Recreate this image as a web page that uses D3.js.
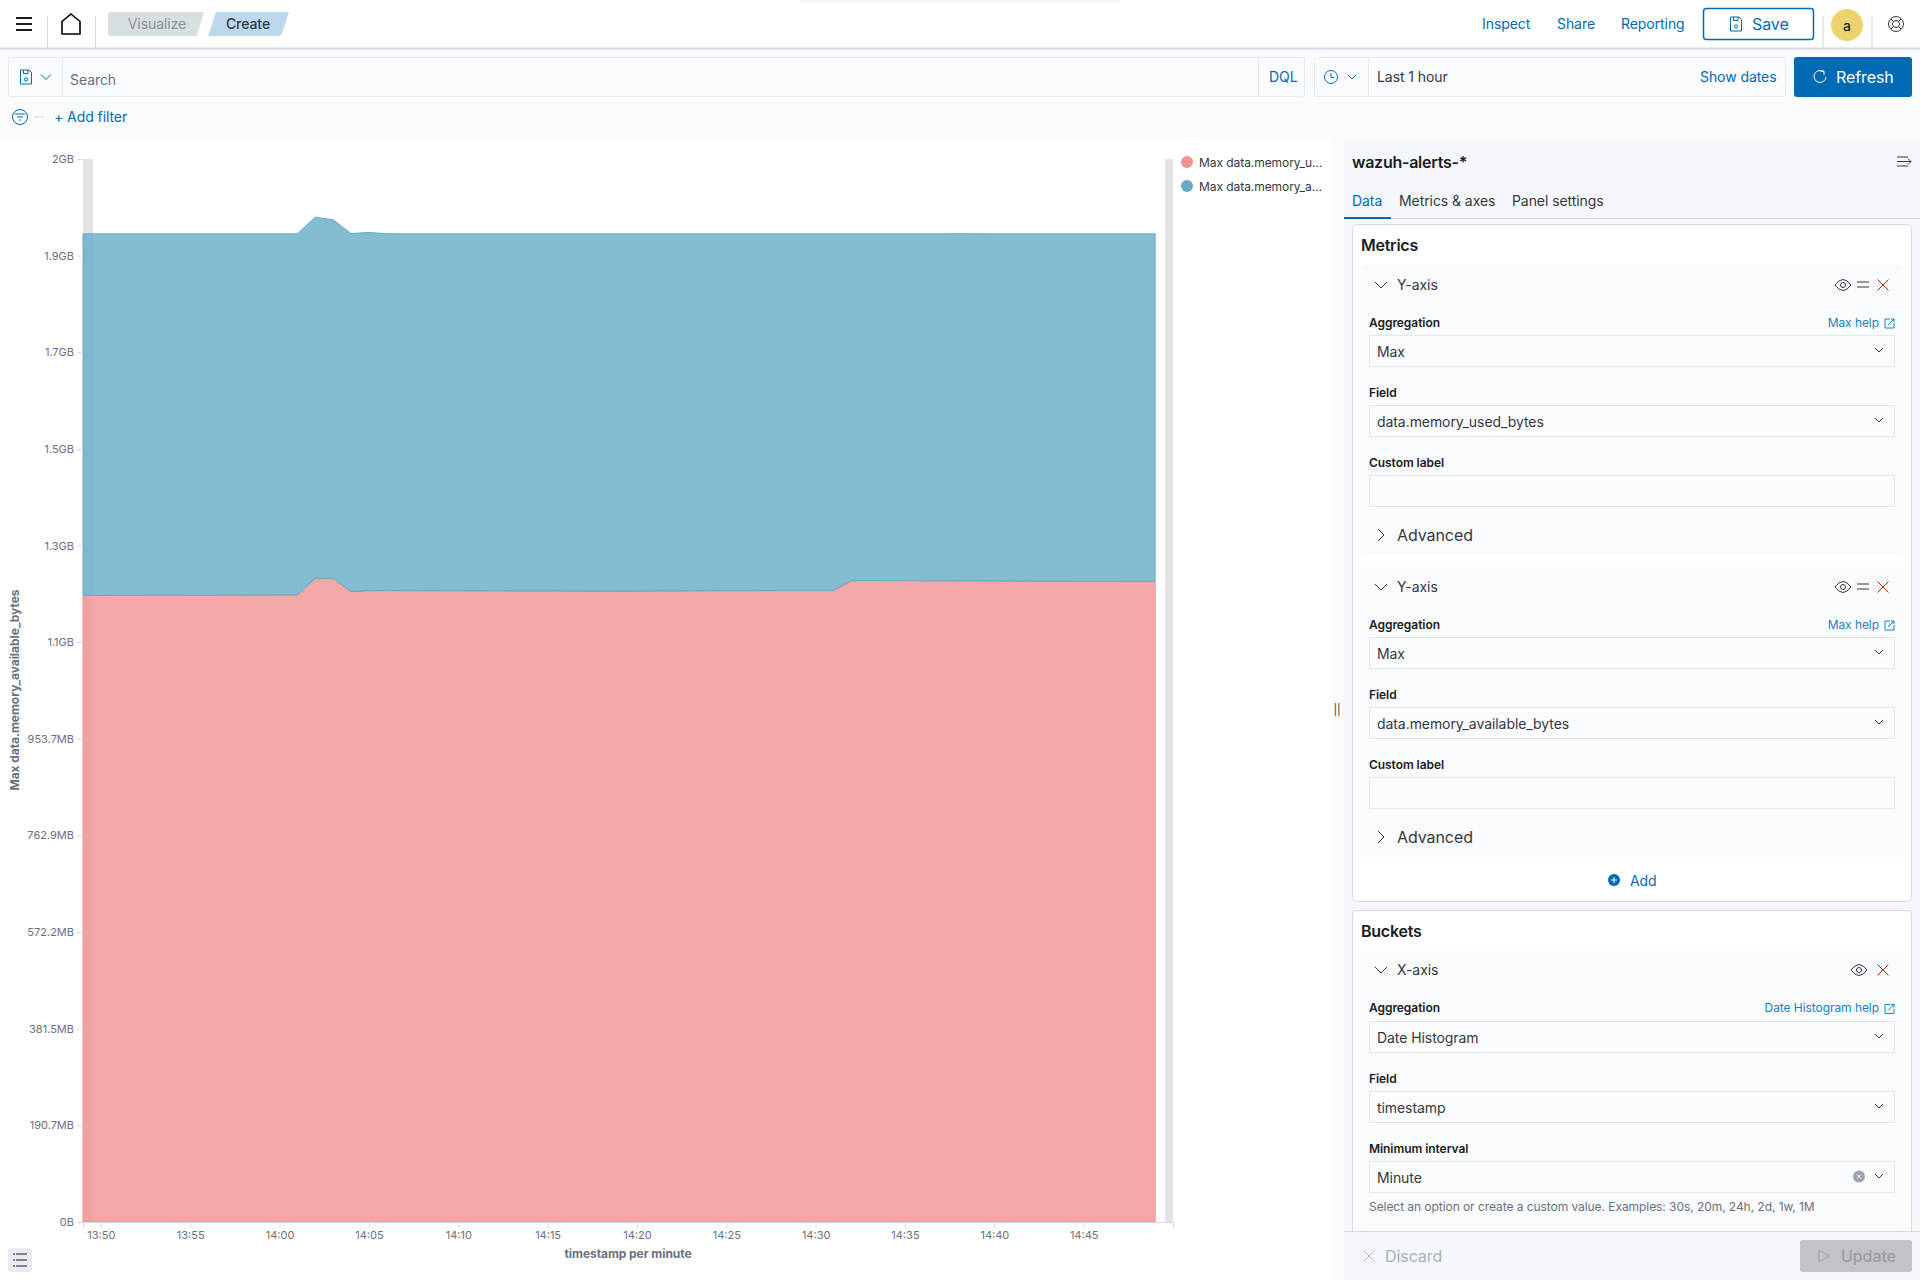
<!DOCTYPE html>
<html>
<head>
<meta charset="utf-8">
<title>wazuh-alerts-*</title>
<script src="https://cdn.jsdelivr.net/npm/d3@7"></script>
<style>
  html, body { margin: 0; padding: 0; background: #fff; }
  svg { display: block; }
  text { font-family: Inter, "Noto Sans", sans-serif; dominant-baseline: central; letter-spacing: -0.005em; }
  .axis text { fill: #69707d; font-size: 11px; dominant-baseline: auto; letter-spacing: 0; }
  .axis line, .axis path { stroke: #d3dae6; }
</style>
</head>
<body>
<div id="chart"></div>
<script>
// Chart values, millions of bytes, one per minute from 13:49 to 14:49
var usedBytes = [
  1297.0, 1297.0, 1297.1, 1297.1, 1297.2, 1297.2, 1297.1, 1297.1, 1297.2, 1297.3,
  1297.5, 1297.6, 1297.8, 1332.2, 1332.2, 1304.5, 1306.6, 1306.8, 1306.7, 1306.6,
  1306.5, 1306.4, 1306.3, 1306.2, 1306.1, 1306.0, 1305.9, 1305.8, 1305.6, 1305.5,
  1305.5, 1305.6, 1305.8, 1306.0, 1306.2, 1306.5, 1306.6, 1306.6, 1306.7, 1306.8,
  1306.8, 1306.8, 1306.8, 1327.3, 1327.4, 1327.3, 1327.2, 1327.0, 1326.9, 1326.8,
  1326.7, 1326.6, 1326.5, 1326.4, 1326.3, 1326.2, 1326.1, 1326.1, 1326.0, 1326.0,
  1326.0
];
var availableBytes = [
  748.2, 748.2, 748.1, 748.1, 748.0, 748.0, 748.1, 748.1, 748.0, 747.9,
  747.7, 747.6, 747.4, 747.4, 742.0, 741.3, 741.3, 738.6, 738.5, 738.6,
  738.7, 738.8, 738.9, 739.0, 739.1, 739.2, 739.3, 739.4, 739.6, 739.7,
  739.7, 739.6, 739.4, 739.2, 739.0, 738.7, 738.6, 738.6, 738.5, 738.4,
  738.4, 738.4, 738.4, 717.9, 717.8, 717.9, 718.0, 718.2, 718.3, 718.7,
  718.6, 718.6, 718.7, 718.8, 718.9, 719.0, 719.1, 719.1, 719.2, 719.2,
  719.2
];
var yTickValues = [0, 200, 400, 600, 800, 1000, 1200, 1400, 1600, 1800, 2000, 2200];
var yTickLabels = ["0B", "190.7MB", "381.5MB", "572.2MB", "762.9MB", "953.7MB", "1.1GB", "1.3GB", "1.5GB", "1.7GB", "1.9GB", "2GB"];
var xTickLabels = ["13:50", "13:55", "14:00", "14:05", "14:10", "14:15", "14:20", "14:25", "14:30", "14:35", "14:40", "14:45"];
var seriesNames = ["Max data.memory_u…", "Max data.memory_a…"];
var seriesColors = ["#f19191", "#65abc5"];

var blue = "#006bb4", ink = "#343741", muted = "#69707d", edge = "#e3e8ef";

var svg = d3.select("#chart").append("svg")
    .attr("width", 1920)
    .attr("height", 1280);

// Small drawing helpers for the app chrome
function label(x, y, str, color, size, weight, anchor) {
    size = size || 14;
    return svg.append("text")
        .attr("x", x).attr("y", y - (size < 16 ? 1 : 0.5))
        .attr("fill", color || ink)
        .attr("font-size", size)
        .attr("font-weight", weight || 400)
        .attr("text-anchor", anchor || "start")
        .text(str);
}
function heading(x, y, str) {
    return label(x, y, str, "#1a1c21", 16, 600).style("letter-spacing", "-0.25px");
}
function box(x, y, w, h, fill, stroke, r) {
    return svg.append("rect")
        .attr("x", x).attr("y", y).attr("width", w).attr("height", h)
        .attr("fill", fill)
        .attr("stroke", stroke || "none")
        .attr("rx", r || 0);
}
function line(x1, y1, x2, y2, color, w) {
    return svg.append("line")
        .attr("x1", x1).attr("y1", y1).attr("x2", x2).attr("y2", y2)
        .attr("stroke", color).attr("stroke-width", w || 1);
}
function icon(d, color, w) {
    return svg.append("path")
        .attr("d", d).attr("fill", "none")
        .attr("stroke", color).attr("stroke-width", w || 1);
}
function chevron(x, y, color, s) {
    s = s || 5;
    icon("M" + (x - s) + "," + (y - s / 2) + "L" + x + "," + (y + s / 2) + "L" + (x + s) + "," + (y - s / 2), color || ink);
}
function chevronRight(x, y) {
    icon("M" + (x - 3) + "," + (y - 6) + "L" + (x + 3) + "," + y + "L" + (x - 3) + "," + (y + 6), ink);
}
function cross(x, y, s, color) {
    icon("M" + (x - s) + "," + (y - s) + "L" + (x + s) + "," + (y + s) + "M" + (x + s) + "," + (y - s) + "L" + (x - s) + "," + (y + s), color);
}
function eye(x, y) {
    icon("M" + (x - 8) + "," + y + "Q" + x + "," + (y - 11) + " " + (x + 8) + "," + y + "Q" + x + "," + (y + 11) + " " + (x - 8) + "," + y, ink);
    svg.append("circle").attr("cx", x).attr("cy", y).attr("r", 2.5).attr("fill", "none").attr("stroke", ink);
}
function externalLink(x, y) {
    icon("M" + (x + 1) + "," + (y - 4) + "H" + (x - 4) + "V" + (y + 5) + "H" + (x + 5) + "V" + y + "M" + (x - 1) + "," + (y + 2) + "L" + (x + 5) + "," + (y - 4) + "M" + (x + 2) + "," + (y - 4) + "H" + (x + 5) + "V" + (y - 1), "#1a7fc4");
}
function saveIcon(x, y, color) {
    icon("M" + (x - 5.5) + "," + (y - 7) + "H" + (x + 3) + "L" + (x + 5.5) + "," + (y - 4.5) + "V" + (y + 7) + "H" + (x - 5.5) + "Z", color);
    icon("M" + (x - 2.5) + "," + (y - 7) + "V" + (y - 3.5) + "H" + (x + 2) + "V" + (y - 7), color);
    svg.append("circle").attr("cx", x).attr("cy", y + 2.5).attr("r", 1.6).attr("fill", "none").attr("stroke", color);
}
function select(y, str) {
    box(1369.5, y + 0.5, 525, 31, "#fbfcfd", edge);
    if (str) {
        label(1377, y + 17, str, ink, 14);
        chevron(1879, y + 15, ink, 4);
    }
}

// Page background
box(0, 49, 1920, 92, "#fafbfd");
box(1332, 141, 12, 1139, "#fafbfd");
box(1344, 141, 576, 1139, "#f5f7fa");

// Top navigation
box(800, 0, 320, 3, "#f7f7f7");
line(0, 48.5, 1920, 48.5, "#d3dae6", 2);
[18, 24, 30].forEach(function (y) { line(16, y, 32, y, "#1a1c21", 2); });
line(47.5, 16, 47.5, 48, "#d3dae6");
line(95.5, 16, 95.5, 48, "#d3dae6");
icon("M62,34V21.5L71,14L80,21.5V34Z", "#000", 1.6);
svg.append("path").attr("d", "M111,12H204L197,36H111Q108,36 108,33V15Q108,12 111,12Z").attr("fill", "#d8dfe0");
svg.append("path").attr("d", "M216,12H289L282,33Q281,36 278,36H208Z").attr("fill", "#bcd8ea");
label(157, 24, "Visualize", "#8a9199", 14, 400, "middle");
label(248, 24, "Create", "#343741", 14, 500, "middle");
label(1482, 24, "Inspect", blue, 14);
label(1557, 24, "Share", blue, 14);
label(1621, 24, "Reporting", blue, 14);
box(1703.5, 8.5, 110, 31, "#fff", blue, 3).attr("stroke-width", 1.5);
saveIcon(1736, 24, blue);
label(1752, 24, "Save", blue, 16, 400);
line(1823, 16, 1823, 48, "#d3dae6");
line(1872, 16, 1872, 48, "#d3dae6");
svg.append("circle").attr("cx", 1847).attr("cy", 25).attr("r", 16).attr("fill", "#ecd36e");
label(1847, 26, "a", "#1a1c21", 14, 500, "middle");
svg.append("circle").attr("cx", 1896).attr("cy", 24).attr("r", 7.5).attr("fill", "none").attr("stroke", ink);
svg.append("circle").attr("cx", 1896).attr("cy", 24).attr("r", 3.5).attr("fill", "none").attr("stroke", ink);
icon("M1891,19L1893.5,21.5M1901,19L1898.5,21.5M1891,29L1893.5,26.5M1901,29L1898.5,26.5", ink);

// Search row
box(8.5, 57.5, 1296, 39, "#fbfcfd", "#e6ebf2", 2);
line(62.5, 58, 62.5, 96, "#e6ebf2");
line(1258.5, 58, 1258.5, 96, "#e6ebf2");
saveIcon(26, 77, blue);
chevron(46, 77, blue, 5);
label(70, 80, "Search", muted, 14);
label(1269, 77, "DQL", blue, 14);
box(1314.5, 57.5, 471, 39, "#fbfcfd", "#e6ebf2", 2);
line(1368.5, 58, 1368.5, 96, "#e6ebf2");
svg.append("circle").attr("cx", 1331).attr("cy", 77).attr("r", 6.5).attr("fill", "none").attr("stroke", blue);
icon("M1331,73V77.5H1334", blue);
chevron(1352, 77, blue, 4);
label(1377, 77, "Last 1 hour", ink, 14);
label(1700, 77, "Show dates", blue, 14);
box(1794, 57, 118, 40, blue, null, 3);
icon("M1824,72A6,6 0 1 0 1826,77M1820,71H1824V75", "#fff");
label(1836, 77, "Refresh", "#fff", 16, 400);
svg.append("circle").attr("cx", 20).attr("cy", 117).attr("r", 7.5).attr("fill", "none").attr("stroke", blue);
line(15, 114, 25, 114, blue);
line(17, 117, 23, 117, blue);
line(19, 120, 21, 120, blue);
line(34, 117, 44, 117, "#d3dae6");
label(54, 117, "+ Add filter", blue, 14);

// Chart: scales and stacked areas
var margin = { top: 159, left: 83, bottom: 1222, right: 1173 };
var minutes = d3.utcMinute.range(new Date(Date.UTC(2021, 0, 1, 13, 49)), new Date(Date.UTC(2021, 0, 1, 14, 50)));
var rows = minutes.map(function (t, i) {
    return { time: t, used: usedBytes[i], available: availableBytes[i] };
});
var x = d3.scaleUtc()
    .domain([new Date(Date.UTC(2021, 0, 1, 13, 49)), new Date(Date.UTC(2021, 0, 1, 14, 50))])
    .range([margin.left, margin.right]);
var y = d3.scaleLinear()
    .domain([0, 2200])
    .range([margin.bottom, margin.top]);
var stacked = d3.stack().keys(["used", "available"])(rows);
var area = d3.area()
    .x(function (d) { return x(d.data.time); })
    .y0(function (d) { return y(d[0]); })
    .y1(function (d) { return y(d[1]); });

// Grey strips at both ends of the plot
box(83, 159, 10, 1063, "#e4e4e4");
box(1165, 159, 8, 1063, "#e4e4e4");

svg.append("g").selectAll("path")
    .data(stacked)
    .enter().append("path")
    .attr("d", area)
    .attr("fill", function (d, i) { return seriesColors[i]; })
    .attr("fill-opacity", 0.8)
    .attr("stroke", function (d, i) { return seriesColors[i]; })
    .attr("stroke-width", 1);

// Left axis
svg.append("g")
    .attr("class", "axis")
    .attr("transform", "translate(" + margin.left + ",0)")
    .call(d3.axisLeft(y)
        .tickValues(yTickValues)
        .tickSize(6)
        .tickSizeOuter(0)
        .tickFormat(function (d, i) { return yTickLabels[i]; }))
    .select(".domain").remove();

// Bottom axis
var xTickTimes = xTickLabels.map(function (s) {
    var p = s.split(":");
    return new Date(Date.UTC(2021, 0, 1, +p[0], +p[1]));
});
svg.append("g")
    .attr("class", "axis")
    .attr("transform", "translate(0," + margin.bottom + ")")
    .call(d3.axisBottom(x)
        .tickValues(xTickTimes)
        .tickSize(6)
        .tickFormat(function (d, i) { return xTickLabels[i]; }));

svg.append("text")
    .attr("transform", "translate(14,690) rotate(-90)")
    .attr("text-anchor", "middle")
    .attr("fill", muted)
    .attr("font-size", 12)
    .attr("font-weight", 700)
    .text("Max data.memory_available_bytes");
label(628, 1254, "timestamp per minute", muted, 12, 700, "middle");

// Legend
svg.append("g").selectAll("circle")
    .data(seriesNames)
    .enter().append("circle")
    .attr("cx", 1187)
    .attr("cy", function (d, i) { return 162 + i * 24; })
    .attr("r", 6)
    .attr("fill", function (d, i) { return seriesColors[i]; });
seriesNames.forEach(function (name, i) { label(1199, 163 + i * 24, name, ink, 12); });

box(8, 1248, 24, 24, "#e9ebef", null, 3);
[1254, 1260, 1266].forEach(function (yy) {
    line(16, yy, 27, yy, "#1a1c21");
    line(13, yy, 15, yy, "#1a1c21");
});

// Editor sidebar
label(1337, 711, "||", ink, 11, 400, "middle");
heading(1352, 162, "wazuh-alerts-*");
icon("M1897,157H1908M1897,166H1908M1897,161.5H1911M1908,158.5L1911,161.5L1908,164.5", ink);
label(1352, 201, "Data", blue, 14);
label(1399, 201, "Metrics & axes", ink, 14);
label(1512, 201, "Panel settings", ink, 14);
line(1344, 218.5, 1920, 218.5, "#d3dae6");
line(1344, 218, 1391, 218, blue, 2);

box(1352.5, 224.5, 559, 677, "#fff", "#d3dae6", 4);
box(1352.5, 910.5, 559, 400, "#fff", "#d3dae6", 4);
heading(1361, 245, "Metrics");
heading(1361, 931.5, "Buckets");

function metricBlock(top, field) {
    box(1361, top, 542, 290, "#fafbfd", null, 3);
    chevron(1381, top + 20, ink, 6);
    label(1397, top + 20, "Y-axis", ink, 14);
    eye(1843, top + 20);
    line(1857, top + 17, 1869, top + 17, ink);
    line(1857, top + 22, 1869, top + 22, ink);
    cross(1883, top + 20, 5.5, "#bd271e");
    label(1369, top + 58, "Aggregation", "#1a1c21", 12, 600);
    label(1879, top + 58, "Max help", "#1a7fc4", 12, 400, "end");
    externalLink(1889, top + 58);
    select(top + 70, "Max");
    label(1369, top + 128, "Field", "#1a1c21", 12, 600);
    select(top + 140, field);
    label(1369, top + 198, "Custom label", "#1a1c21", 12, 600);
    select(top + 210, "");
    chevronRight(1381, top + 270);
    label(1397, top + 270, "Advanced", ink, 16);
}
metricBlock(265, "data.memory_used_bytes");
metricBlock(567, "data.memory_available_bytes");

svg.append("circle").attr("cx", 1614).attr("cy", 880).attr("r", 6).attr("fill", blue);
line(1611, 880, 1617, 880, "#fff");
line(1614, 877, 1614, 883, "#fff");
label(1630, 881, "Add", blue, 14);

box(1361, 950.5, 542, 280, "#fafbfd");
chevron(1381, 970, ink, 6);
label(1397, 970.5, "X-axis", ink, 14);
eye(1859, 970);
cross(1883, 970, 5.5, "#bd271e");
label(1369, 1008.5, "Aggregation", "#1a1c21", 12, 600);
label(1879, 1008.5, "Date Histogram help", "#1a7fc4", 12, 400, "end");
externalLink(1889, 1008.5);
select(1021, "Date Histogram");
label(1369, 1079, "Field", "#1a1c21", 12, 600);
select(1091, "timestamp");
label(1369, 1149, "Minimum interval", "#1a1c21", 12, 600);
select(1161, "Minute");
svg.append("circle").attr("cx", 1859).attr("cy", 1176.5).attr("r", 6).attr("fill", "#98a2b3");
cross(1859, 1176.5, 2, "#fff");
label(1369, 1207, "Select an option or create a custom value. Examples: 30s, 20m, 24h, 2d, 1w, 1M", muted, 12);

// Footer
box(1344, 1231, 576, 49, "#f5f7fa");
line(1344, 1231.5, 1920, 1231.5, "#d3dae6");
cross(1369, 1256, 5.5, "#b5bcc5");
label(1385, 1256, "Discard", "#a9afb8", 16);
box(1800, 1240, 112, 32, "#c2c3c6", null, 3);
icon("M1819,1250V1262L1829,1256Z", "#9a9da3");
label(1841, 1256, "Update", "#9a9da3", 16, 500);
</script>
</body>
</html>
